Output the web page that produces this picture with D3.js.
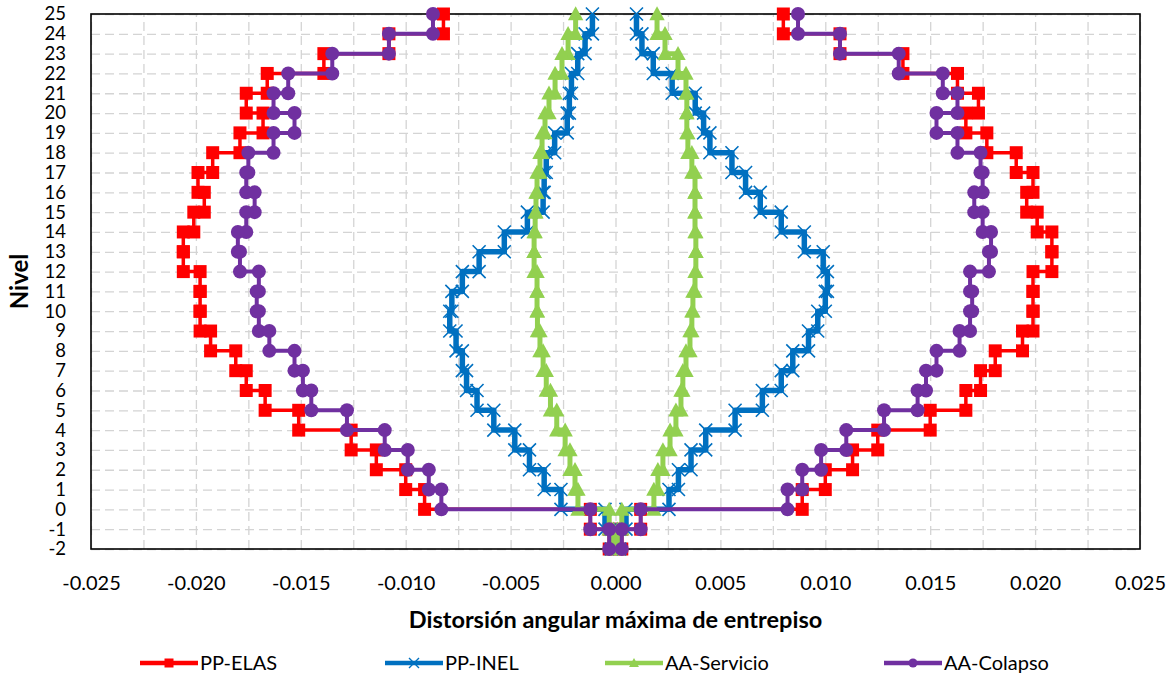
<!DOCTYPE html>
<html>
<head>
<meta charset="utf-8">
<script src="https://cdn.jsdelivr.net/npm/d3@7"></script>
<style>
  body { margin: 0; background: #fff; }
  svg text { font-family: "Lato", "Open Sans", sans-serif; fill: #000; }
</style>
</head>
<body>
<svg id="chart"></svg>
<script>
// Entrepisos (story k spans level k-1 .. k)
const entrepisos = [25, 24, 23, 22, 21, 20, 19, 18, 17, 16, 15, 14, 13, 12, 11, 10, 9, 8, 7, 6, 5, 4, 3, 2, 1, 0, -1];

// Tick labels
const nivelTicks = [25, 24, 23, 22, 21, 20, 19, 18, 17, 16, 15, 14, 13, 12, 11, 10, 9, 8, 7, 6, 5, 4, 3, 2, 1, 0, -1, -2];
const xTicks = [-0.025, -0.020, -0.015, -0.010, -0.005, 0.000, 0.005, 0.010, 0.015, 0.020, 0.025];

// Series values (one per entrepiso, negative and positive direction)
const ppElasNeg = [-0.0082, -0.0108, -0.0139, -0.0166, -0.0176, -0.0168, -0.0179, -0.0192, -0.0199, -0.0196, -0.0201, -0.0206, -0.0206, -0.0198, -0.0198, -0.0198, -0.0193, -0.0181, -0.0176, -0.0167, -0.0151, -0.0126, -0.0114, -0.0100, -0.0091, -0.0012, -0.0003];
const ppElasPos = [0.0080, 0.0107, 0.0137, 0.0163, 0.0173, 0.0167, 0.0177, 0.0191, 0.0199, 0.0196, 0.0201, 0.0208, 0.0208, 0.0199, 0.0199, 0.0199, 0.0194, 0.0181, 0.0174, 0.0167, 0.0150, 0.0125, 0.0113, 0.0100, 0.0089, 0.0012, 0.0003];

const ppInelNeg = [-0.0011, -0.00145, -0.0018, -0.0021, -0.0022, -0.0023, -0.0029, -0.0033, -0.0034, -0.00345, -0.0042, -0.0053, -0.0065, -0.0073, -0.0078, -0.0079, -0.0076, -0.0073, -0.0071, -0.0066, -0.0058, -0.0048, -0.0041, -0.0034, -0.0026, -0.0005, -0.0002];
const ppInelPos = [0.0010, 0.00126, 0.0018, 0.0027, 0.0038, 0.0042, 0.0045, 0.00555, 0.0062, 0.0069, 0.0079, 0.0090, 0.0099, 0.0101, 0.0100, 0.00964, 0.0092, 0.00845, 0.0079, 0.0070, 0.0057, 0.0043, 0.0036, 0.0030, 0.00255, 0.0005, 0.0002];

const aaServNeg = [-0.0019, -0.00226, -0.00255, -0.00288, -0.00317, -0.00336, -0.0035, -0.0036, -0.00374, -0.00379, -0.00383, -0.00388, -0.00388, -0.00374, -0.00374, -0.00372, -0.0036, -0.00345, -0.0033, -0.0031, -0.0028, -0.0024, -0.00217, -0.00193, -0.00179, -0.0003, -0.0001];
const aaServPos = [0.00198, 0.00236, 0.00298, 0.00336, 0.0034, 0.0034, 0.00345, 0.00364, 0.00379, 0.00379, 0.00379, 0.00383, 0.00383, 0.00379, 0.00369, 0.00364, 0.00355, 0.00336, 0.00321, 0.00312, 0.00288, 0.0026, 0.00226, 0.00202, 0.00183, 0.0003, 0.0001];

const aaColNeg = [-0.0087, -0.0108, -0.0135, -0.0156, -0.0163, -0.0153, -0.0163, -0.0175, -0.0176, -0.0172, -0.0176, -0.0180, -0.0179, -0.0170, -0.0171, -0.0170, -0.0165, -0.0153, -0.0149, -0.0145, -0.0128, -0.0110, -0.0099, -0.0089, -0.0083, -0.0012, -0.0003];
const aaColPos = [0.0087, 0.0107, 0.0135, 0.0156, 0.0163, 0.0153, 0.0163, 0.0174, 0.0175, 0.0171, 0.0175, 0.0179, 0.0178, 0.0169, 0.0170, 0.0169, 0.0164, 0.0153, 0.0148, 0.0144, 0.0128, 0.0110, 0.0098, 0.0089, 0.0082, 0.0012, 0.0003];

const seriesNames = ["PP-ELAS", "PP-INEL", "AA-Servicio", "AA-Colapso"];

// Sizes and margins
const width = 1175;
const height = 678;
const marginTop = 14;
const marginRight = 35;
const marginBottom = 129;
const marginLeft = 91;

const fmt = d3.formatLocale({decimal: ".", thousands: ",", grouping: [3], currency: ["", ""], minus: "-"});
const fmtX = fmt.format(".3f");
const fmtY = fmt.format("d");

const x = d3.scaleLinear()
    .domain([-0.025, 0.025])
    .range([marginLeft, width - marginRight]);

const y = d3.scaleLinear()
    .domain([-2, 25])
    .range([height - marginBottom, marginTop]);

const svg = d3.select("#chart")
    .attr("width", width)
    .attr("height", height)
    .attr("viewBox", [0, 0, width, height]);

svg.append("rect").attr("width", width).attr("height", height).attr("fill", "#fff");

// Grid lines (dashed)
const gridX = d3.range(-10, 11).map(i => i * 0.0025);
svg.append("g")
    .attr("transform", `translate(0,${height - marginBottom})`)
    .call(d3.axisBottom(x).tickValues(gridX).tickSize(-(height - marginBottom - marginTop)).tickFormat(""))
    .call(g => g.select(".domain").remove())
    .call(g => g.selectAll("line").attr("stroke", "#d4d4d4").attr("stroke-width", 1.3).attr("stroke-dasharray", "9,5"));

svg.append("g")
    .attr("transform", `translate(${marginLeft},0)`)
    .call(d3.axisLeft(y).tickValues(nivelTicks).tickSize(-(width - marginLeft - marginRight)).tickFormat(""))
    .call(g => g.select(".domain").remove())
    .call(g => g.selectAll("line").attr("stroke", "#d4d4d4").attr("stroke-width", 1.3).attr("stroke-dasharray", "9,5"));

// Plot frame
svg.append("rect")
    .attr("x", marginLeft)
    .attr("y", marginTop)
    .attr("width", width - marginLeft - marginRight)
    .attr("height", height - marginBottom - marginTop)
    .attr("fill", "none")
    .attr("stroke", "#000")
    .attr("stroke-width", 1.6);

// Axis labels
svg.append("g")
    .attr("transform", `translate(0,${height - marginBottom})`)
    .call(d3.axisBottom(x).tickValues(xTicks).tickSize(0).tickPadding(27).tickFormat(fmtX))
    .call(g => g.select(".domain").remove())
    .call(g => g.selectAll("text").attr("font-size", 20).attr("font-family", null));

svg.append("g")
    .attr("transform", `translate(${marginLeft},0)`)
    .call(d3.axisLeft(y).tickValues(nivelTicks).tickSize(0).tickPadding(25).tickFormat(fmtY))
    .call(g => g.select(".domain").remove())
    .call(g => g.selectAll("text").attr("font-size", 18.5).attr("font-family", null));

svg.append("text")
    .attr("x", (marginLeft + width - marginRight) / 2)
    .attr("y", 628)
    .attr("text-anchor", "middle")
    .attr("font-size", 23.5)
    .attr("font-weight", "bold")
    .text("Distorsión angular máxima de entrepiso");

svg.append("text")
    .attr("transform", `translate(28,${(marginTop + height - marginBottom) / 2}) rotate(-90)`)
    .attr("text-anchor", "middle")
    .attr("font-size", 24)
    .attr("font-weight", "bold")
    .text("Nivel");

// Marker shapes
const markers = {
    square: s => d3.symbol(d3.symbolSquare, s * s)(),
    circle: s => d3.symbol(d3.symbolCircle, Math.PI * s * s / 4)(),
    triangle: s => `M0,${-s * 0.55}L${s * 0.55},${s * 0.45}L${-s * 0.55},${s * 0.45}Z`,
    cross: s => `M${-s / 2},${-s / 2}L${s / 2},${s / 2}M${-s / 2},${s / 2}L${s / 2},${-s / 2}`
};

const series = [
    {name: seriesNames[0], neg: ppElasNeg, pos: ppElasPos, color: "#FF0000", lw: 3.5, marker: "square", size: 13},
    {name: seriesNames[1], neg: ppInelNeg, pos: ppInelPos, color: "#0070C0", lw: 5.5, marker: "cross", size: 13},
    {name: seriesNames[2], neg: aaServNeg, pos: aaServPos, color: "#92D050", lw: 5, marker: "triangle", size: 14},
    {name: seriesNames[3], neg: aaColNeg, pos: aaColPos, color: "#7030A0", lw: 4, marker: "circle", size: 14}
];

// Step profile: down the negative side, then up the positive side
function buildPoints(neg, pos) {
    const pts = [];
    entrepisos.forEach((k, i) => {
        pts.push([neg[i], k]);
        pts.push([neg[i], k - 1]);
    });
    for (let i = entrepisos.length - 1; i >= 0; i--) {
        const k = entrepisos[i];
        pts.push([pos[i], k - 1]);
        pts.push([pos[i], k]);
    }
    return pts;
}

const line = d3.line().x(d => x(d[0])).y(d => y(d[1]));

series.forEach(s => {
    const pts = buildPoints(s.neg, s.pos);
    const g = svg.append("g");
    g.append("path")
        .attr("d", line(pts))
        .attr("fill", "none")
        .attr("stroke", s.color)
        .attr("stroke-width", s.lw)
        .attr("stroke-linejoin", "round");
    g.selectAll("path.mk")
      .data(pts)
      .join("path")
        .attr("class", "mk")
        .attr("transform", d => `translate(${x(d[0])},${y(d[1])})`)
        .attr("d", markers[s.marker](s.size))
        .attr("fill", s.marker === "cross" ? "none" : s.color)
        .attr("stroke", s.marker === "cross" ? s.color : "none")
        .attr("stroke-width", 1.6);
});

// Legend (item start positions as in the original layout)
const legendY = 663;
const legendStart = [140, 385, 605, 884];
const items = svg.append("g")
  .selectAll("g")
  .data(series)
  .join("g")
    .attr("transform", (d, i) => `translate(${legendStart[i]},${legendY})`);
items.append("line")
    .attr("x1", 0).attr("x2", 58)
    .attr("stroke", d => d.color)
    .attr("stroke-width", 4.5);
items.append("path")
    .attr("transform", "translate(29,0)")
    .attr("d", d => markers[d.marker](d.marker === "cross" ? 10 : 9))
    .attr("fill", d => d.marker === "cross" ? "none" : d.color)
    .attr("stroke", d => d.marker === "cross" ? d.color : "none")
    .attr("stroke-width", 1.4);
items.append("text")
    .attr("x", 60)
    .attr("dy", "0.35em")
    .attr("font-size", 20)
    .text(d => d.name);
</script>
</body>
</html>
